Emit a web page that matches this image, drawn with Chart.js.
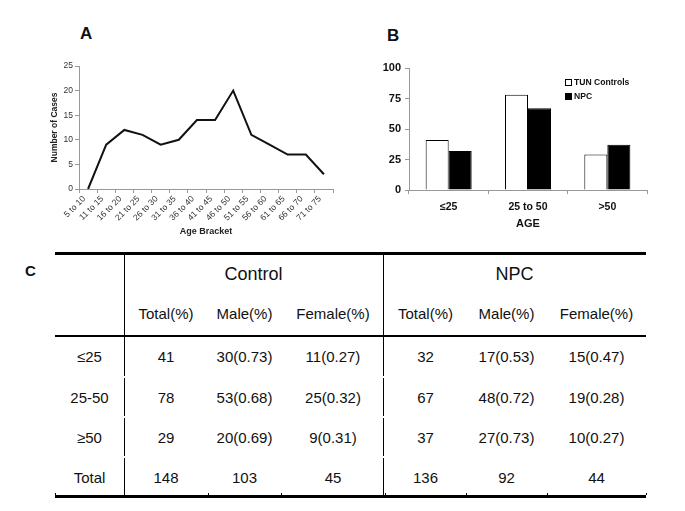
<!DOCTYPE html>
<html><head><meta charset="utf-8">
<script src="https://cdn.jsdelivr.net/npm/chart.js@4.4.1/dist/chart.umd.min.js"></script>
<style>
body{margin:0;background:#fff;width:685px;height:511px;position:relative;overflow:hidden;font-family:"Liberation Sans",Arial,sans-serif;color:#111;}
.panel{position:absolute;font-weight:bold;font-size:17px;line-height:1;}
.cell{position:absolute;display:flex;align-items:center;justify-content:center;font-size:15px;white-space:nowrap;}
.line{position:absolute;background:#000;}
.leg{position:absolute;font-size:8.6px;font-weight:bold;line-height:1;display:flex;align-items:center;}
.leg span.box{display:inline-block;width:5px;height:5px;border:1px solid #000;margin-right:2px;}
</style></head><body>
<div class="panel" style="left:80px;top:25px">A</div>
<div class="panel" style="left:387px;top:27px">B</div>
<div class="panel" style="left:25px;top:263px;font-size:15px">C</div>
<canvas id="chartA" width="300" height="195" style="position:absolute;left:40px;top:50px"></canvas>
<canvas id="chartB" width="320" height="190" style="position:absolute;left:355px;top:50px"></canvas>
<div id="legendB"></div>
<div id="table"></div>
<script>
// ---- Panel A data ----
const ageBrackets = ["5 to 10","11 to 15","16 to 20","21 to 25","26 to 30","31 to 35","36 to 40","41 to 45","46 to 50","51 to 55","56 to 60","61 to 65","66 to 70","71 to 75"];
const caseCounts = [0,9,12,11,9,10,14,14,20,11,9,7,7,3];
// ---- Panel B data ----
const ageGroups = ["≤25","25 to 50",">50"];
const seriesNames = ["TUN Controls","NPC"];
const controlCounts = [41,78,29];
const npcCounts = [32,67,37];
// ---- Panel C table data ----
const groupHeaders = ["Control","NPC"];
const subHeaders = ["Total(%)","Male(%)","Female(%)","Total(%)","Male(%)","Female(%)"];
const rowLabels = ["≤25","25-50","≥50","Total"];
const controlTotal = ["41","78","29","148"];
const controlMale = ["30(0.73)","53(0.68)","20(0.69)","103"];
const controlFemale = ["11(0.27)","25(0.32)","9(0.31)","45"];
const npcTotal = ["32","67","37","136"];
const npcMale = ["17(0.53)","48(0.72)","27(0.73)","92"];
const npcFemale = ["15(0.47)","19(0.28)","10(0.27)","44"];

const FAM = '"Liberation Sans", Arial, sans-serif';

new Chart(document.getElementById('chartA'), {
  type: 'line',
  data: { labels: ageBrackets, datasets: [{ data: caseCounts, borderColor: '#111', borderWidth: 2, pointRadius: 0, tension: 0, fill: false }] },
  options: {
    responsive: false, animation: false,
    layout: { padding: { top: 16, right: 7, left: 0, bottom: 0 } },
    plugins: { legend: { display: false }, tooltip: { enabled: false } },
    scales: {
      x: {
        offset: true,
        grid: { offset: true, drawOnChartArea: false, color: '#999', tickLength: 4 },
        border: { color: '#999' },
        ticks: { minRotation: 45, maxRotation: 45, autoSkip: false, font: { size: 8.5, family: FAM }, color: '#333', padding: 1, labelOffset: -4 },
        title: { display: true, text: 'Age Bracket', font: { size: 9, weight: 'bold', family: FAM }, color: '#222', padding: { top: 0, bottom: 8 } },
        afterFit: (s) => { s.height = 56; }
      },
      y: {
        min: 0, max: 25,
        ticks: { stepSize: 5, font: { size: 8.5, family: FAM }, color: '#333', padding: 2 },
        grid: { drawOnChartArea: false, color: '#999', tickLength: 4 },
        border: { color: '#999' },
        title: { display: true, text: 'Number of Cases', font: { size: 8.5, weight: 'bold', family: FAM }, color: '#222', padding: { top: 10, bottom: 0 } },
        afterFit: (s) => { s.width = 39; }
      }
    }
  }
});

new Chart(document.getElementById('chartB'), {
  type: 'bar',
  data: {
    labels: ageGroups,
    datasets: [
      { label: seriesNames[0], data: controlCounts, backgroundColor: '#fff', borderColor: '#000', borderWidth: 1 },
      { label: seriesNames[1], data: npcCounts, backgroundColor: '#000', borderColor: '#000', borderWidth: 1 }
    ]
  },
  options: {
    responsive: false, animation: false,
    barPercentage: 1, categoryPercentage: 0.58,
    layout: { padding: { top: 18, right: 28, left: 0, bottom: 0 } },
    plugins: { legend: { display: false }, tooltip: { enabled: false } },
    scales: {
      x: {
        grid: { offset: true, drawOnChartArea: false, color: '#999', tickLength: 4 },
        border: { color: '#999' },
        ticks: { font: { size: 10.5, weight: 'bold', family: FAM }, color: '#111', padding: 7 },
        title: { display: true, text: 'AGE', font: { size: 11, weight: 'bold', family: FAM }, color: '#111', padding: { top: 0, bottom: 9 } },
        afterFit: (s) => { s.height = 50; }
      },
      y: {
        min: 0, max: 100,
        ticks: { stepSize: 25, font: { size: 11, weight: 'bold', family: FAM }, color: '#111', padding: 4 },
        grid: { drawOnChartArea: false, color: '#999', tickLength: 4 },
        border: { color: '#999' },
        afterFit: (s) => { s.width = 54; }
      }
    }
  }
});

// Legend for B
(function(){
  const el = document.getElementById('legendB');
  const fills = ['#fff', '#000'];
  const tops = [78, 92];
  seriesNames.forEach((n, i) => {
    const d = document.createElement('div');
    d.className = 'leg';
    d.style.left = '565px'; d.style.top = tops[i] + 'px';
    d.innerHTML = '<span class="box" style="background:' + fills[i] + '"></span>' + n;
    el.appendChild(d);
  });
})();

// Table C
(function(){
  const el = document.getElementById('table');
  const colX = [55,124,208,281,385,466,547,646];
  const rowY = [254,291,336,377,417,457,497];
  function cell(text, x0, x1, y0, y1, size) {
    const d = document.createElement('div');
    d.className = 'cell';
    d.style.left = x0 + 'px'; d.style.width = (x1 - x0) + 'px';
    d.style.top = y0 + 'px'; d.style.height = (y1 - y0) + 'px';
    if (size) d.style.fontSize = size + 'px';
    d.textContent = text;
    el.appendChild(d);
  }
  function line(x, y, w, h) {
    const d = document.createElement('div');
    d.className = 'line';
    d.style.left = x + 'px'; d.style.top = y + 'px'; d.style.width = w + 'px'; d.style.height = h + 'px';
    el.appendChild(d);
  }
  cell(groupHeaders[0], 124, 383, rowY[0], rowY[1] + 4, 18);
  cell(groupHeaders[1], 383, 646, rowY[0], rowY[1] + 4, 18);
  subHeaders.forEach((h, i) => cell(h, colX[i+1], colX[i+2], rowY[1], rowY[2]));
  const cols = [rowLabels, controlTotal, controlMale, controlFemale, npcTotal, npcMale, npcFemale];
  rowLabels.forEach((r, ri) => {
    cols.forEach((c, ci) => cell(c[ri], colX[ci], colX[ci+1], rowY[ri+2], rowY[ri+3]));
  });
  line(55, 252, 591, 3);
  line(55, 335, 591, 2);
  line(55, 495, 591, 3);
  // vertical separators with small gaps between body rows
  const segs = [[254, 376], [378, 416], [418, 456], [458, 496]];
  [123.5, 382.5].forEach(x => segs.forEach(s => line(x, s[0], 1.5, s[1] - s[0])));
  // small ticks on the bottom rule at column boundaries
  colX.forEach(x => line(x - 0.5, 493, 1, 2));
})();
</script>
</body></html>
